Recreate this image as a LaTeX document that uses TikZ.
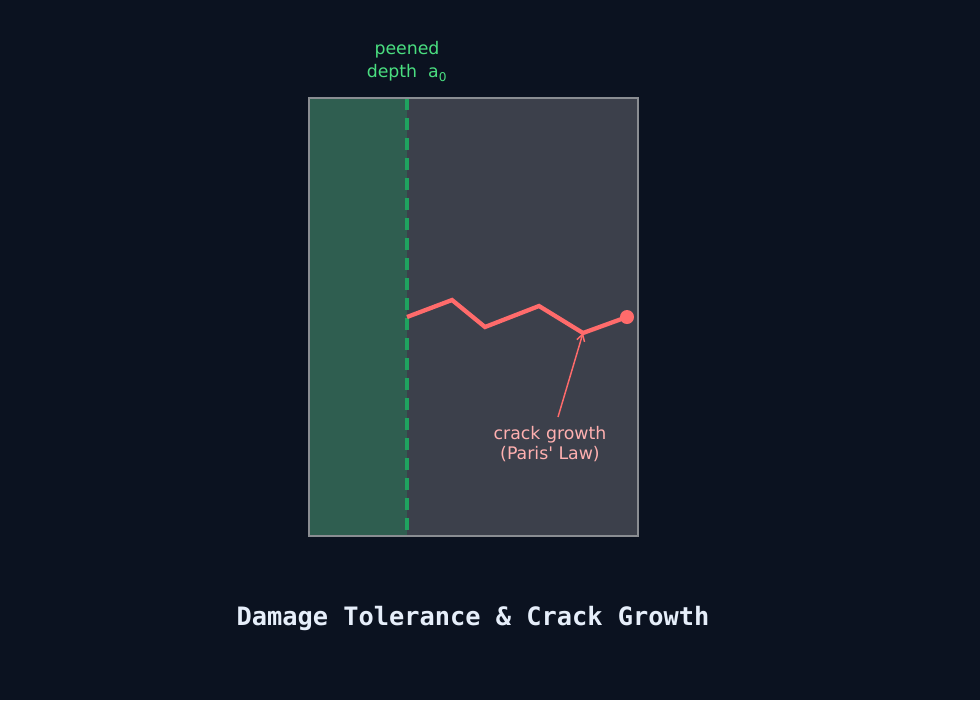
\documentclass[tikz,border=0pt]{standalone}
\usepackage{fontspec}
\setmainfont{DejaVu Sans}
\setmonofont{DejaVu Sans Mono}
\usetikzlibrary{arrows.meta}
\definecolor{bg}{HTML}{0B1220}
\definecolor{peen}{HTML}{2F5E50}
\definecolor{bulk}{HTML}{3C404B}
\definecolor{frame}{HTML}{8A8D92}
\definecolor{dashg}{HTML}{1FA35F}
\definecolor{crack}{HTML}{FF6B6B}
\definecolor{pink}{HTML}{FFB0B0}
\definecolor{lbl}{HTML}{4ADE80}
\definecolor{ttl}{HTML}{E6EEFA}
\tikzset{
  lab/.style={font=\fontsize{13}{15.5}\selectfont, align=center, inner sep=0pt},
}
\begin{document}
\begin{tikzpicture}[x=0.75pt,y=-0.75pt]
\fill[bg] (0,0) rectangle (980,700);
\useasboundingbox (0,0) rectangle (980,700);
\fill[bulk] (309,98) rectangle (638,536);
\fill[peen] (309,98) rectangle (407,536);
\draw[dashg, line width=2.4pt, dash pattern=on 9pt off 6pt] (407,98) -- (407,536);
\draw[frame, line width=1.8pt] (309,98) rectangle (638,536);
\coordinate (c0) at (407,317);
\coordinate (c1) at (452,300);
\coordinate (c2) at (485,327);
\coordinate (c3) at (539,306);
\coordinate (c4) at (583,333);
\node[circle, fill=crack, minimum size=10.5pt, inner sep=0pt] (tip) at (627,317) {};
\draw[crack, line width=3.2pt, line join=miter] (c0) -- (c1) -- (c2) -- (c3) -- (c4) -- (tip.center);
\node[lab, text=lbl] (peened) at (407,50) {peened};
\node[lab, text=lbl] (depth) at (407,73) {depth\ \ a\textsubscript{0}};
\node[lab, text=pink] (growth) at (550,444) {crack growth\\(Paris\textquotesingle\ Law)};
\coordinate (as) at (558,417);
\draw[crack, line width=1.1pt, -{Straight Barb[length=5pt,width=6pt]}] (as) -- (c4);
\node[text=ttl, font=\ttfamily\bfseries\fontsize{19}{22}\selectfont, inner sep=0pt] (title) at (473,618) {Damage Tolerance \& Crack Growth};
\end{tikzpicture}
\end{document}
